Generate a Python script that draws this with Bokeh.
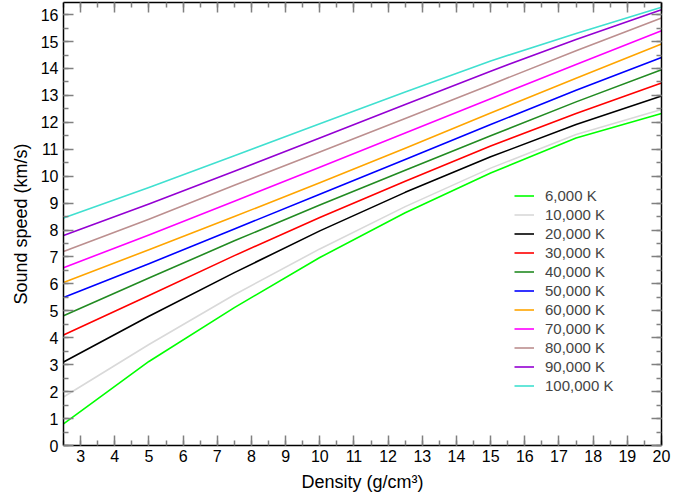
from bokeh.plotting import figure
from bokeh.models import Range1d, SingleIntervalTicker, LinearAxis, Legend, LegendItem
from bokeh.embed import file_html
from bokeh.resources import INLINE

density = [2.5, 5, 7.5, 10, 12.5, 15, 17.5, 20]

labels = ["6,000 K", "10,000 K", "20,000 K", "30,000 K", "40,000 K", "50,000 K",
          "60,000 K", "70,000 K", "80,000 K", "90,000 K", "100,000 K"]

speed_6k = [0.8, 3.12, 5.12, 6.98, 8.64, 10.12, 11.42, 12.33]
speed_10k = [1.8, 3.75, 5.6, 7.3, 8.87, 10.3, 11.55, 12.48]
speed_20k = [3.1, 4.8, 6.42, 7.97, 9.4, 10.72, 11.92, 12.98]
speed_30k = [4.1, 5.57, 7.05, 8.47, 9.81, 11.12, 12.33, 13.46]
speed_40k = [4.82, 6.22, 7.6, 8.93, 10.22, 11.5, 12.76, 13.95]
speed_50k = [5.5, 6.75, 8.04, 9.33, 10.62, 11.92, 13.19, 14.41]
speed_60k = [6.05, 7.27, 8.5, 9.76, 11.04, 12.35, 13.64, 14.91]
speed_70k = [6.6, 7.82, 9.07, 10.33, 11.6, 12.88, 14.15, 15.40]
speed_80k = [7.2, 8.4, 9.66, 10.9, 12.14, 13.4, 14.66, 15.87]
speed_90k = [7.8, 8.97, 10.18, 11.42, 12.66, 13.9, 15.08, 16.18]
speed_100k = [8.45, 9.58, 10.76, 11.95, 13.13, 14.28, 15.3, 16.27]

series = [speed_6k, speed_10k, speed_20k, speed_30k, speed_40k, speed_50k,
          speed_60k, speed_70k, speed_80k, speed_90k, speed_100k]
colors = ["#00ff00", "#d9d9d9", "#000000", "#ff0000", "#228b22", "#0000ff",
          "#ffa500", "#ff00ff", "#bc8f8f", "#9400d3", "#40e0d0"]

FONT = "Liberation Sans"

p = figure(width=693, height=498, output_backend="svg", toolbar_location=None,
           x_range=Range1d(2.5, 20), y_range=Range1d(0, 16.45),
           min_border_left=63, min_border_right=32, min_border_top=2, min_border_bottom=53)
p.grid.visible = False
p.outline_line_color = None
p.background_fill_color = "white"
p.border_fill_color = "white"

items = []
for vals, col, lab in zip(series, colors, labels):
    r = p.line(density, vals, line_color=col, line_width=1.6, line_join="round")
    items.append(LegendItem(label=lab, renderers=[r]))

def style(ax, show_labels=True):
    ax.ticker = SingleIntervalTicker(interval=1, num_minor_ticks=2)
    ax.major_tick_in = 10
    ax.major_tick_out = 0
    ax.minor_tick_in = 5
    ax.minor_tick_out = 0
    ax.major_tick_line_color = "#808080"
    ax.minor_tick_line_color = "#808080"
    ax.major_tick_line_width = 1.5
    ax.minor_tick_line_width = 1.5
    ax.axis_line_color = "black"
    ax.axis_line_width = 1.5
    ax.major_label_text_font = FONT
    ax.major_label_text_font_size = "16px"
    ax.major_label_text_color = "black"
    if not show_labels:
        ax.major_label_text_font_size = "0px"
        ax.major_label_text_alpha = 0
        ax.major_label_standoff = 0

style(p.xaxis[0])
style(p.yaxis[0])
p.xaxis[0].major_label_standoff = 4
p.yaxis[0].major_label_standoff = 5
p.xaxis[0].axis_label = "Density (g/cm\u00b3)"
p.yaxis[0].axis_label = "Sound speed (km/s)"
for ax in (p.xaxis[0], p.yaxis[0]):
    ax.axis_label_text_font = FONT
    ax.axis_label_text_font_size = "18px"
    ax.axis_label_text_font_style = "normal"
    ax.axis_label_text_color = "black"
    ax.axis_label_standoff = 7

top = LinearAxis()
style(top, show_labels=False)
p.add_layout(top, "above")
right = LinearAxis()
style(right, show_labels=False)
p.add_layout(right, "right")

legend = Legend(items=items, location=(451, 50), padding=0, margin=0, spacing=0,
                glyph_width=20, glyph_height=19, label_height=19, label_standoff=11,
                label_text_font=FONT, label_text_font_size="15px",
                background_fill_alpha=0, border_line_color=None)
p.add_layout(legend, "center")

open("out.html", "w").write(file_html(p, INLINE))
